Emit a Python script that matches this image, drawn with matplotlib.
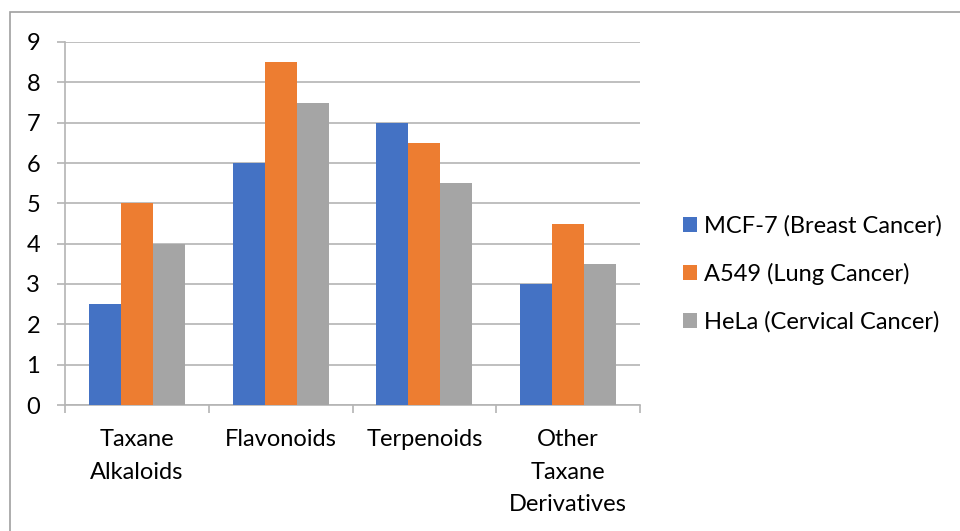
import matplotlib.pyplot as plt
import numpy as np
from matplotlib.patches import Rectangle

categories = ["Taxane\nAlkaloids", "Flavonoids", "Terpenoids", "Other\nTaxane\nDerivatives"]
mcf7 = [2.5, 6, 7, 3]
a549 = [5, 8.5, 6.5, 4.5]
hela = [4, 7.5, 5.5, 3.5]
series_names = ["MCF-7 (Breast Cancer)", "A549 (Lung Cancer)", "HeLa (Cervical Cancer)"]
colors = ["#4472C4", "#ED7D31", "#A5A5A5"]

plt.rcParams['font.family'] = ['Lato', 'DejaVu Sans']
FS = 17

fig = plt.figure(figsize=(9.6, 5.31), dpi=100)
# outer chart frame
fig.patches.append(Rectangle((10 / 960, -0.01), 1.2, 1 - 12 / 531 + 0.01,
                             transform=fig.transFigure, fill=False,
                             edgecolor="#A0A0A0", linewidth=1.2))

ax = fig.add_axes([65 / 960, 1 - 405 / 531, 575 / 960, 363 / 531])

x = np.arange(len(categories))
w = 0.667 / 3
for i, vals in enumerate([mcf7, a549, hela]):
    ax.bar(x + (i - 1) * w, vals, width=w, color=colors[i], label=series_names[i], zorder=3)

ax.set_xlim(-0.5, len(categories) - 0.5)
ax.set_ylim(0, 9)
ax.set_yticks(range(0, 10))
ax.grid(axis="y", color="#B4B4B4", linewidth=1.2, zorder=0)
ax.tick_params(axis="y", length=6, color="#B4B4B4", width=1.2, labelsize=FS, pad=12)
ax.set_xticks(np.arange(len(categories) + 1) - 0.5)
ax.set_xticklabels([])
ax.set_xticks(x, minor=True)
ax.set_xticklabels(categories, minor=True, fontsize=FS, linespacing=1.7)
ax.tick_params(axis="x", which="major", length=6, color="#B4B4B4", width=1.2)
ax.tick_params(axis="x", which="minor", length=0, pad=17)
for side in ["top", "right"]:
    ax.spines[side].set_visible(False)
for side in ["left", "bottom"]:
    ax.spines[side].set_color("#B4B4B4")
    ax.spines[side].set_linewidth(1.2)

leg = ax.legend(loc="center left", bbox_to_anchor=(1.037, 0.361), frameon=False,
                fontsize=FS, handlelength=0.6, handleheight=0.6,
                handletextpad=0.3, labelspacing=1.12)

plt.savefig("out.png", dpi=100)
